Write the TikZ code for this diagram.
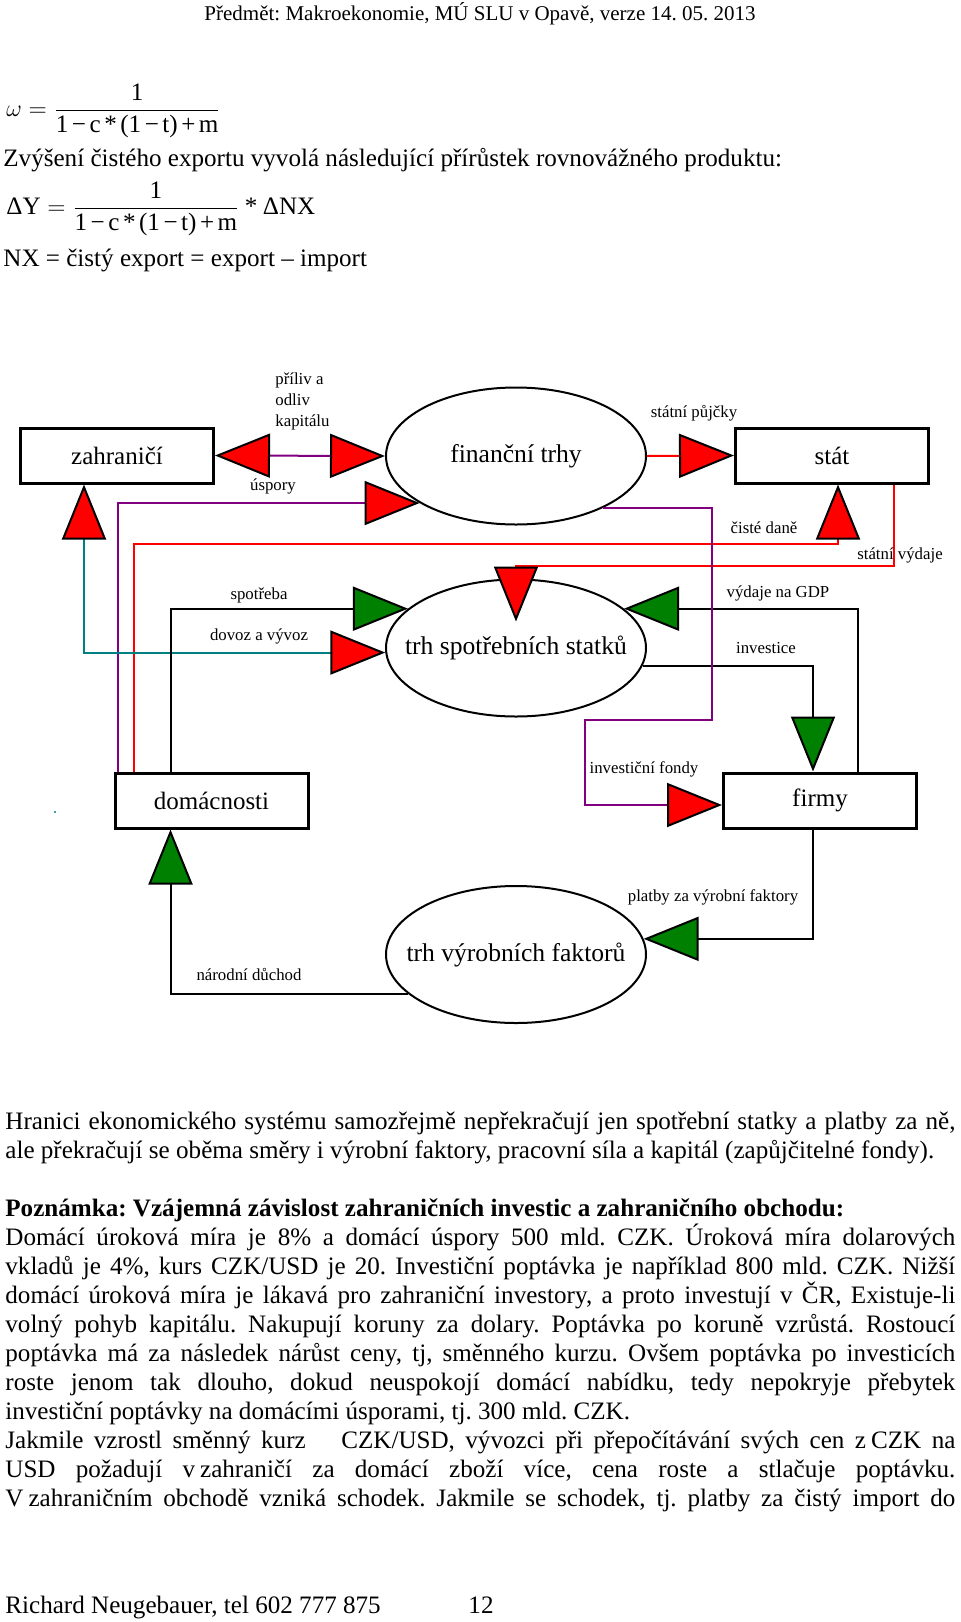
\documentclass[tikz,border=0pt]{standalone}
\usepackage{fontspec}
\usepackage{amsmath}
\setmainfont{Liberation Serif}
\usetikzlibrary{shapes.geometric,arrows.meta,calc}
\definecolor{fialova}{RGB}{128,0,128}
\definecolor{tyrkys}{RGB}{0,128,128}
\definecolor{zelena}{RGB}{0,128,0}
\frenchspacing
\newcommand{\zarovnej}[1]{\makebox[475pt][s]{#1}}
\newcommand{\mez}{\kern0.14em}
\newcommand{\jmenovatel}{\text{1\mez−\mez c\mez*\mez(1\mez−\mez t)\mez+\mez m}}
\tikzset{
  blok/.style={draw,line width=1.5pt,minimum width=96.5pt,minimum height=27.5pt,inner sep=0pt,font=\fontsize{12.5}{15}\selectfont},
  trh/.style={ellipse,draw,fill=white,line width=1pt,minimum width=130pt,minimum height=68.5pt,inner sep=0pt,
    label={[font=\fontsize{12.8}{15}\selectfont]center:#1}},
  popis/.style={inner sep=0pt,font=\fontsize{8.4}{10.5}\selectfont},
  radek/.style={anchor=base west,inner sep=0pt,font=\fontsize{12.55}{15}\selectfont},
  tok/.style={line width=1pt},
  cerveny/.tip={Triangle[length=27.5pt,width=22pt,line width=1pt,color=black,fill=red]},
  zeleny/.tip={Triangle[length=27.5pt,width=22pt,line width=1pt,color=black,fill=zelena]}
}

\begin{document}
\begin{tikzpicture}[x=0.5pt,y=-0.5pt]
\useasboundingbox (0,0) rectangle (960,1622);
\node[font=\fontsize{10.5}{12}\selectfont,anchor=base] (hlavicka) at (480,20) {Předmět: Makroekonomie, MÚ SLU v Opavě, verze 14. 05. 2013};

\node[radek,anchor=west] (omega) at (6,111) {$\omega = \dfrac{\text{1}}{\jmenovatel}$};
\node[radek] (zvyseni) at (3,166) {Zvýšení čistého exportu vyvolá následující přírůstek rovnovážného produktu:};
\node[radek,anchor=west] (deltaY) at (6,209) {$\text{ΔY} = \dfrac{\text{1}}{\jmenovatel}\mathbin{\text{*}}\text{ΔNX}$};
\node[radek] (nx) at (3,266) {NX = čistý export = export – import};

\node[blok] (zahranici) at (117,455.5) {zahraničí};
\node[blok] (stat) at (832,455.5) {stát};
\node[blok] (domacnosti) at (211.5,800.5) {domácnosti};
\node[blok] (firmy) at (820,800.5) {firmy};
\node[trh=finanční trhy] (financni) at (516,456) {};
\node[trh=trh spotřebních statků] (spotrebni) at (516,648) {};
\node[trh=trh výrobních faktorů] (vyrobni) at (516,954.5) {};
\node[circle,fill=tyrkys,inner sep=0pt,minimum size=1.2pt] (tecka) at (55,812) {};

\coordinate (dane) at (838,544);
\coordinate (vydaje) at (516,566);
\coordinate (fondyA) at (712,720);
\coordinate (fondyB) at (585,720);

\draw[tok,fialova,{cerveny}-{cerveny}] (zahranici.east) -- (financni.west);
\draw[tok,fialova,-{cerveny}] ($(domacnosti.north west)+(4,0)$) |- (financni.206);
\draw[tok,red,-{cerveny}] ($(domacnosti.north west)+(20,0)$) |- (dane) -- (dane |- stat.south);
\draw[tok,red,-{cerveny}] ($(stat.south west)+(160,0)$) |- (vydaje) -- ($(spotrebni.north)+(0,43)$);
\draw[tok,tyrkys,{cerveny}-{cerveny}] ($(zahranici.south west)+(65,0)$) |- (spotrebni.182);
\draw[tok,-{zeleny}] ($(domacnosti.north west)+(57,0)$) |- (spotrebni.160);
\draw[tok,-{zeleny}] ($(firmy.north west)+(136,0)$) |- (spotrebni.20);
\draw[tok,-{zeleny}] (spotrebni.352) -| ($(firmy.north west)+(91,0)$);
\draw[tok,red,-{cerveny}] (financni.east) -- (stat.west);
\draw[tok,fialova,-{cerveny}] (financni.329) -| (fondyA) -- (fondyB) |- ($(firmy.west)+(0,4.5)$);
\draw[tok,-{zeleny}] ($(firmy.south west)+(91,0)$) |- (vyrobni.7);
\draw[tok,-{zeleny}] (vyrobni.200) -| ($(domacnosti.south west)+(57,0)$);

\node[popis,anchor=west,align=left] (kapital) at (275,401) {příliv a\\odliv\\kapitálu};
\node[popis] (uspory) at (273,486) {úspory};
\node[popis] (pujcky) at (694,413) {státní půjčky};
\node[popis] (cisteDane) at (764,528) {čisté daně};
\node[popis] (statniVydaje) at (900,555) {státní výdaje};
\node[popis] (spotreba) at (259,595) {spotřeba};
\node[popis] (dovoz) at (259,636) {dovoz a vývoz};
\node[popis] (gdp) at (778,593) {výdaje na GDP};
\node[popis] (investice) at (766,648) {investice};
\node[popis] (fondy) at (644,769) {investiční fondy};
\node[popis] (platby) at (713,897) {platby za výrobní faktory};
\node[popis] (duchod) at (249,974) {národní důchod};

\node[radek] (r1) at (5,1129.5) {\zarovnej{Hranici ekonomického systému samozřejmě nepřekračují jen spotřební statky a platby za ně,}};
\node[radek] (r2) at (5,1158.5) {ale překračují se oběma směry i výrobní faktory, pracovní síla a kapitál (zapůjčitelné fondy).};
\node[radek] (r3) at (5,1216.4) {\textbf{Poznámka: Vzájemná závislost zahraničních investic a zahraničního obchodu:}};
\node[radek] (r4) at (5,1245.4) {\zarovnej{Domácí úroková míra je 8\% a domácí úspory 500 mld. CZK. Úroková míra dolarových}};
\node[radek] (r5) at (5,1274.3) {\zarovnej{vkladů je 4\%, kurs CZK/USD je 20. Investiční poptávka je například 800 mld. CZK. Nižší}};
\node[radek] (r6) at (5,1303.3) {\zarovnej{domácí úroková míra je lákavá pro zahraniční investory, a proto investují v ČR, Existuje-li}};
\node[radek] (r7) at (5,1332.3) {\zarovnej{volný pohyb kapitálu. Nakupují koruny za dolary. Poptávka po koruně vzrůstá. Rostoucí}};
\node[radek] (r8) at (5,1361.2) {\zarovnej{poptávka má za následek nárůst ceny, tj, směnného kurzu. Ovšem poptávka po investicích}};
\node[radek] (r9) at (5,1390.2) {\zarovnej{roste jenom tak dlouho, dokud neuspokojí domácí nabídku, tedy nepokryje přebytek}};
\node[radek] (r10) at (5,1419.2) {investiční poptávky na domácími úsporami, tj. 300 mld. CZK.};
\node[radek] (r11) at (5,1448.1) {\zarovnej{Jakmile vzrostl směnný kurz\hspace{1em} CZK/USD, vývozci při přepočítávání svých cen z\hspace{0.2em}CZK na}};
\node[radek] (r12) at (5,1477.1) {\zarovnej{USD požadují v\hspace{0.2em}zahraničí za domácí zboží více, cena roste a stlačuje poptávku.}};
\node[radek] (r13) at (5,1506.1) {\zarovnej{V\hspace{0.2em}zahraničním obchodě vzniká schodek. Jakmile se schodek, tj. platby za čistý import do}};

\node[radek] (autor) at (5,1613) {Richard Neugebauer, tel 602 777 875};
\node[radek,anchor=base] (strana) at (481,1613) {12};
\end{tikzpicture}
\end{document}
